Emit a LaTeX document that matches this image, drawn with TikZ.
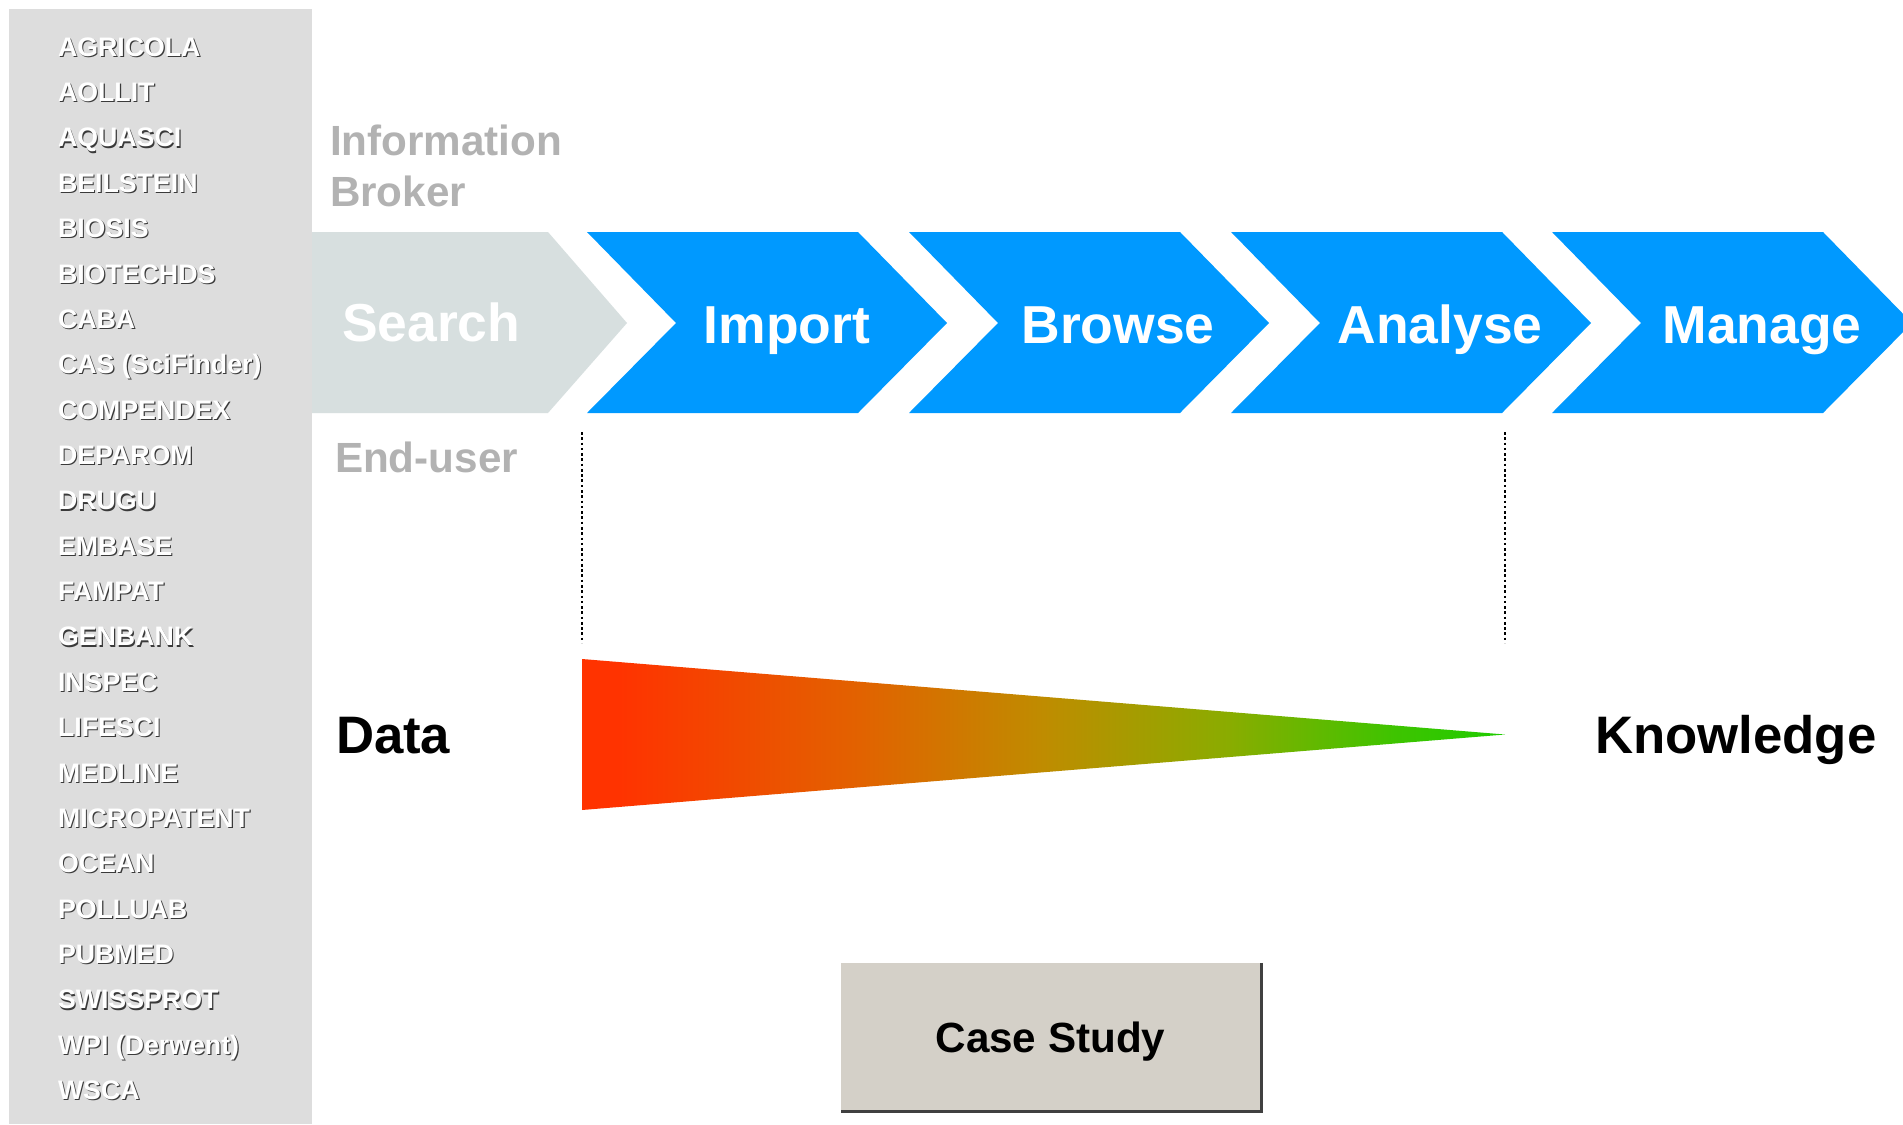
\documentclass[tikz,border=0pt]{standalone}
\usepackage{fontspec}
\setmainfont{Liberation Sans}
\usepackage{tikz}
\usetikzlibrary{calc}

\definecolor{panelgray}{HTML}{DDDDDD}
\definecolor{searchgray}{HTML}{D7DFDF}
\definecolor{stepblue}{HTML}{0099FF}
\definecolor{rolegray}{HTML}{B2B2B2}
\definecolor{dbshadow}{HTML}{3A3A3A}
\definecolor{datared}{HTML}{FF3300}
\definecolor{grad_a}{HTML}{E26200}
\definecolor{grad_b}{HTML}{BF8C00}
\definecolor{grad_c}{HTML}{8AAC00}
\definecolor{grad_d}{HTML}{3EC400}
\definecolor{knowgreen}{HTML}{1ECC00}
\definecolor{casegray}{HTML}{D4D0C8}
\definecolor{caseedge}{HTML}{404040}

\pgfdeclarehorizontalshading{dataknow}{100bp}{color(0bp)=(datared); color(27bp)=(datared);
    color(40bp)=(grad_a); color(50bp)=(grad_b); color(60bp)=(grad_c); color(69bp)=(grad_d);
    color(75bp)=(knowgreen); color(100bp)=(knowgreen)}

\newcommand{\dblist}{AGRICOLA\\AOLLIT\\AQUASCI\\BEILSTEIN\\BIOSIS\\BIOTECHDS\\CABA\\CAS (SciFinder)\\COMPENDEX\\DEPAROM\\DRUGU\\EMBASE\\FAMPAT\\GENBANK\\INSPEC\\LIFESCI\\MEDLINE\\MICROPATENT\\OCEAN\\POLLUAB\\PUBMED\\SWISSPROT\\WPI (Derwent)\\WSCA}

\begin{document}
\begin{tikzpicture}[x=0.01cm, y=-0.01cm, inner sep=0pt, outer sep=0pt,
    every node/.style={font=\bfseries},
    dbtext/.style={anchor=north west, align=left, font=\fontsize{7.6}{12.90}\selectfont\bfseries},
    roletext/.style={anchor=base west, text=rolegray, font=\fontsize{12}{14.6}\selectfont\bfseries},
    steptext/.style={anchor=base, text=white, font=\fontsize{15.2}{18}\selectfont\bfseries},
    endtext/.style={anchor=base west, font=\fontsize{15}{18}\selectfont\bfseries},
    guide/.style={line width=0.8pt, dash pattern=on 0.75pt off 0.75pt},
    casebox/.style={fill=casegray, minimum width=4.19cm, minimum height=1.47cm}]

    \useasboundingbox (0,0) rectangle (1903,1124);
    \fill[white] (0,0) rectangle (1903,1124);

    % databases
    \fill[panelgray] (9,9) rectangle (312,1124);
    \node[dbtext, text=dbshadow] (db_list_sh) at (59.2,38.7) {\dblist};
    \node[dbtext, text=white] (db_list) at (58,37.5) {\dblist};

    % roles
    \node[roletext] (role_info) at (330,155) {Information};
    \node[roletext] (role_broker) at ($(role_info.base west) + (0,51)$) {Broker};
    \node[roletext] (role_user) at (335,472) {End-user};

    % steps
    \fill[searchgray] (312,232) -- (548,232) -- (627,323) -- (548,413) -- (312,413) -- cycle;
    \node[steptext, anchor=base west] (step_Search) at (342,341) {Search};
    \foreach \l/\d/\t in {587/200/Import, 909/209/Browse, 1231/209/Analyse, 1552/210/Manage}{
        \fill[stepblue] (\l,232) -- ++(271,0) -- ++(89,91) -- ++(-89,90) -- ++(-271,0) -- ++(89,-90) -- cycle;
        \node[steptext] (step_\t) at (\l+\d,343) {\t};
    }

    % data -> knowledge
    \coordinate (imp_top) at (582,432);
    \coordinate (imp_bot) at (582,643);
    \coordinate (ana_top) at (1505,432);
    \coordinate (ana_bot) at (1505,643);
    \draw[guide] (imp_top) -- (imp_bot);
    \draw[guide] (ana_top) -- (ana_bot);

    \coordinate (grad_top) at (582,659);
    \coordinate (grad_tip) at (1505,734.5);
    \coordinate (grad_bot) at (582,810);
    \shade[shading=dataknow] (grad_top) -- (grad_tip) -- (grad_bot) -- cycle;

    \node[endtext] (data) at (336,753) {Data};
    \node[endtext] (knowledge) at (1595,753) {Knowledge};

    % case study
    \node[casebox] (case) at (1050.5,1036.5) {};
    \draw[line width=0.85pt, caseedge] ($(case.north east) + (1.5,0)$) -- ($(case.south east) + (1.5,1.5)$)
        -- ($(case.south west) + (0,1.5)$);
    \node[anchor=base, font=\fontsize{12}{14}\selectfont\bfseries] (case_lbl)
        at ($(case.center) + (0,16)$) {Case Study};

\end{tikzpicture}
\end{document}
